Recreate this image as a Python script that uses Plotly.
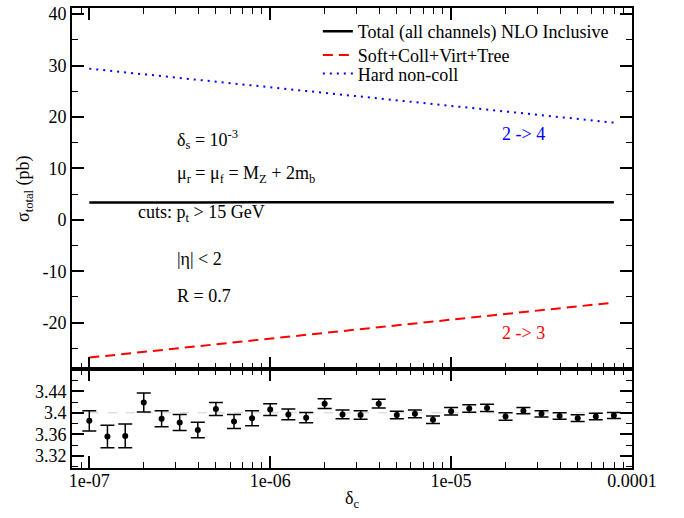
import plotly.graph_objects as go

# ---------------- data ----------------
delta_c = [1.00e-7, 1.26e-7, 1.58e-7, 2.00e-7, 2.51e-7, 3.16e-7, 3.98e-7, 5.01e-7, 6.31e-7, 7.94e-7,
           1.00e-6, 1.26e-6, 1.58e-6, 2.00e-6, 2.51e-6, 3.16e-6, 3.98e-6, 5.01e-6, 6.31e-6, 7.94e-6,
           1.00e-5, 1.26e-5, 1.58e-5, 2.00e-5, 2.51e-5, 3.16e-5, 3.98e-5, 5.01e-5, 6.31e-5, 7.94e-5]

total = [3.385, 3.356, 3.357, 3.419, 3.389, 3.382, 3.368, 3.407, 3.384, 3.390,
         3.406, 3.397, 3.391, 3.417, 3.397, 3.396, 3.417, 3.396, 3.398, 3.387,
         3.403, 3.408, 3.409, 3.393, 3.404, 3.398, 3.394, 3.390, 3.393, 3.395]
total_err = [0.019, 0.021, 0.022, 0.0175, 0.015, 0.015, 0.0145, 0.012, 0.013, 0.014,
             0.011, 0.010, 0.0095, 0.009, 0.008, 0.008, 0.008, 0.007, 0.007, 0.007,
             0.007, 0.007, 0.0067, 0.007, 0.006, 0.006, 0.006, 0.0063, 0.006, 0.0055]

hard_noncoll = [29.40, 29.04, 28.68, 28.31, 27.95, 27.59, 27.23, 26.87, 26.50, 26.14,
                25.78, 25.42, 25.06, 24.69, 24.33, 23.97, 23.61, 23.25, 22.88, 22.52,
                22.16, 21.80, 21.44, 21.07, 20.71, 20.35, 19.99, 19.63, 19.26, 18.90]

soft_coll = [-26.80, -26.43, -26.06, -25.69, -25.32, -24.96, -24.59, -24.22, -23.85, -23.48,
             -23.11, -22.74, -22.37, -22.00, -21.63, -21.27, -20.90, -20.53, -20.16, -19.79,
             -19.42, -19.05, -18.68, -18.31, -17.94, -17.58, -17.21, -16.84, -16.47, -16.10]

ref_value = 3.4

x_tickvals = [1e-7, 1e-6, 1e-5, 1e-4]
x_ticktext = ["1e-07", "1e-06", "1e-05", "0.0001"]
x_minor = [d * m for d in (1e-8, 1e-7, 1e-6, 1e-5) for m in range(2, 10)]

y_tickvals = [-20, -10, 0, 10, 20, 30, 40]
y_ticktext = ["-20", "-10", "0", "10", "20", "30", "40"]
y_minor = [-25, -15, -5, 5, 15, 25, 35]

y2_tickvals = [3.32, 3.36, 3.40, 3.44]
y2_ticktext = ["3.32", "3.36", "3.4", "3.44"]
y2_minor = [3.30, 3.34, 3.38, 3.42, 3.46]

# ---------------- figure ----------------
FONT = "Liberation Serif"
fig = go.Figure()

fig.add_trace(go.Scatter(x=delta_c, y=total, mode="lines", name="Total (all channels) NLO Inclusive",
                         line=dict(color="black", width=2.5), xaxis="x", yaxis="y", legend="legend"))
fig.add_trace(go.Scatter(x=delta_c, y=soft_coll, mode="lines", name="Soft+Coll+Virt+Tree",
                         line=dict(color="red", width=2, dash="10px,6px"), xaxis="x", yaxis="y",
                         legend="legend2"))
fig.add_trace(go.Scatter(x=delta_c, y=hard_noncoll, mode="lines", name="Hard non-coll",
                         line=dict(color="blue", width=2, dash="2px,5px"), xaxis="x", yaxis="y",
                         legend="legend3"))

fig.add_trace(go.Scatter(x=delta_c, y=total, mode="markers", showlegend=False,
                         marker=dict(color="black", size=6),
                         error_y=dict(type="data", array=total_err, color="black", thickness=1.5, width=7),
                         xaxis="x2", yaxis="y2"))

fig.add_shape(type="line", xref="x2 domain", yref="y2", x0=0, x1=1, y0=ref_value, y1=ref_value,
              line=dict(color="#d0d0d0", width=1, dash="dash"), layer="below")

split = 0.2143
major = dict(showline=True, linewidth=2, linecolor="black", ticks="inside", ticklen=12, tickwidth=1.5,
             tickcolor="black", mirror="allticks", showgrid=False, zeroline=False,
             tickfont=dict(family=FONT, size=18, color="black"))

def minor_arr(vals):
    return dict(tickmode="array", tickvals=vals, ticks="inside", ticklen=6, tickwidth=1.2,
                tickcolor="black", showgrid=False)

xr = [-7.0956, -4.0]
yr = [-29.1, 41.2]
y2r = [3.2975, 3.4805]
fig.update_layout(
    width=684, height=518,
    margin=dict(l=72, r=52, t=5, b=50),
    paper_bgcolor="white", plot_bgcolor="white",
    font=dict(family=FONT, size=18, color="black"),
    xaxis=dict(type="log", range=xr, anchor="y", domain=[0, 1], showticklabels=False,
               tickmode="array", tickvals=x_tickvals, ticktext=x_ticktext,
               minor=minor_arr(x_minor), **major),
    xaxis2=dict(type="log", range=xr, anchor="y2", domain=[0, 1],
                tickmode="array", tickvals=x_tickvals, ticktext=x_ticktext,
                minor=minor_arr(x_minor), ticklabelstandoff=-5,
                title=dict(text="δ<sub>c</sub>", font=dict(family=FONT, size=18), standoff=2),
                **major),
    yaxis=dict(domain=[split, 1], anchor="x", range=yr,
               tickmode="array", tickvals=y_tickvals, ticktext=y_ticktext,
               minor=minor_arr(y_minor),
               title=dict(text="σ<sub>total</sub> (pb)", font=dict(family=FONT, size=18), standoff=8),
               **major),
    yaxis2=dict(domain=[0, split], anchor="x2", range=y2r,
                tickmode="array", tickvals=y2_tickvals, ticktext=y2_ticktext, minor=minor_arr(y2_minor),
                **major),
)

legend_common = dict(xanchor="left", yanchor="middle", bgcolor="rgba(0,0,0,0)",
                     font=dict(family=FONT, size=18, color="black"), tracegroupgap=0)
fig.update_layout(
    legend=dict(x=0.439, y=0.949, **legend_common),
    legend2=dict(x=0.439, y=0.897, **legend_common),
    legend3=dict(x=0.439, y=0.857, **legend_common),
)

def px_to_paper(px, py):
    return (px - 72) / 560.0, (468.3 - py) / 463.3

annots = [
    ("δ<sub>s</sub> = 10<sup>-3</sup>", 175, 137, "black"),
    ("μ<sub>r</sub> = μ<sub>f</sub> = M<sub>Z</sub> + 2m<sub>b</sub>", 175, 173, "black"),
    ("cuts: p<sub>t</sub> &gt; 15 GeV", 136, 212, "black"),
    ("|η| &lt; 2", 175, 258, "black"),
    ("R = 0.7", 175, 295, "black"),
    ("2 -&gt; 4", 500, 132, "blue"),
    ("2 -&gt; 3", 500, 332, "red"),
]
for text, px, py, col in annots:
    ax, ay = px_to_paper(px, py)
    fig.add_annotation(text=text, x=ax, y=ay, xref="paper", yref="paper", xanchor="left",
                       yanchor="middle", showarrow=False, font=dict(family=FONT, size=18, color=col))

fig.write_html("out.html")
